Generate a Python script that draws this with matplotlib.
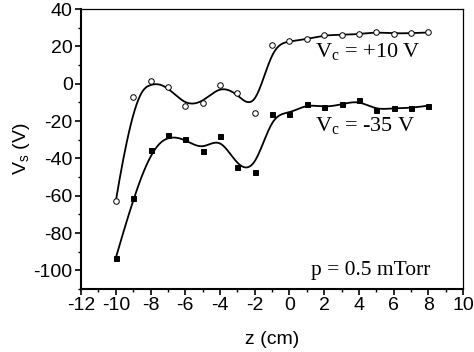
import numpy as np
import matplotlib
matplotlib.use("Agg")
import matplotlib.pyplot as plt

z = [-10, -9, -8, -7, -6, -5, -4, -3, -2, -1, 0, 1, 2, 3, 4, 5, 6, 7, 8]
vs_plus10 = [-63, -7, 1.7, -1.5, -11.7, -10.2, -0.9, -5.2, -15.6, 20.7, 22.8,
             23.9, 26.1, 26.2, 26.6, 27.7, 26.9, 27.1, 27.5]
vs_minus35 = [-93.4, -61.2, -35.6, -27.6, -29.7, -35.8, -27.9, -44.6, -47.1, -16.0,
              -16.1, -10.8, -12.7, -11.1, -8.8, -14.2, -12.9, -13.1, -11.7]
xticks = [-12, -10, -8, -6, -4, -2, 0, 2, 4, 6, 8, 10]
yticks = [-100, -80, -60, -40, -20, 0, 20, 40]


def bspline(xs, ys, n=600, k=3):
    """Clamped cubic B-spline using the data points as control points."""
    P = np.column_stack([xs, ys]).astype(float)
    m = len(P)
    inner = np.arange(1, m - k)
    knots = np.concatenate([np.zeros(k + 1), inner, np.full(k + 1, m - k)]).astype(float)
    t = np.linspace(0, m - k, n)
    t[-1] -= 1e-9
    B = np.zeros((n, len(knots) - 1))
    for i in range(len(knots) - 1):
        B[:, i] = (t >= knots[i]) & (t < knots[i + 1])
    for d in range(1, k + 1):
        Bn = np.zeros((n, len(knots) - 1 - d))
        for i in range(len(knots) - 1 - d):
            a = knots[i + d] - knots[i]
            b = knots[i + d + 1] - knots[i + 1]
            term = 0
            if a > 0:
                term = term + (t - knots[i]) / a * B[:, i]
            if b > 0:
                term = term + (knots[i + d + 1] - t) / b * B[:, i + 1]
            Bn[:, i] = term
        B = Bn
    C = B @ P
    return C[:, 0], C[:, 1]


fig = plt.figure(figsize=(4.74, 3.52), dpi=100)
ax = fig.add_axes([0.171, 0.179, 0.806, 0.795])

for ys, marker, fc in [(vs_plus10, 'o', 'white'), (vs_minus35, 's', 'black')]:
    cx, cy = bspline(z, ys)
    ax.plot(cx, cy, color='black', lw=1.3, zorder=2)
    ax.plot(z, ys, ls='none', marker=marker, ms=4.0 if marker == 'o' else 3.6,
            mfc=fc, mec='black', mew=0.7, zorder=3)

ax.set_xlim(-12, 10)
ax.set_ylim(-110, 40)
ax.set_xticks(xticks)
ax.set_yticks(yticks)
ax.set_xticks(np.arange(-12, 10.5, 1), minor=True)
ax.set_yticks(np.arange(-110, 41, 10), minor=True)

sans = 'Liberation Sans'
serif = 'Liberation Serif'
ax.set_xticklabels([str(v) for v in xticks], fontfamily=sans, fontsize=14)
ax.set_yticklabels([str(v) for v in yticks], fontfamily=sans, fontsize=14)
ax.tick_params(which='major', direction='out', length=4, width=1.2, pad=2, colors='black')
ax.tick_params(which='minor', direction='out', length=2.5, width=1.0)

for s in ['left', 'bottom']:
    ax.spines[s].set_linewidth(1.5)
for s in ['top', 'right']:
    ax.spines[s].set_linewidth(0.9)

ax.set_xlabel('z (cm)', fontfamily=sans, fontsize=14, labelpad=12)
ax.set_ylabel('V$_\\mathregular{s}$ (V)', fontfamily=sans, fontsize=14, labelpad=1)

ax.text(1.5, 17, 'V$_\\mathregular{c}$ = +10 V', fontfamily=serif, fontsize=16, va='center', ha='left')
ax.text(1.5, -23, 'V$_\\mathregular{c}$ = -35 V', fontfamily=serif, fontsize=16, va='center', ha='left')
ax.text(8.1, -100, 'p = 0.5 mTorr', fontfamily=serif, fontsize=15.5, va='center', ha='right')

fig.savefig('out.png', dpi=100)
